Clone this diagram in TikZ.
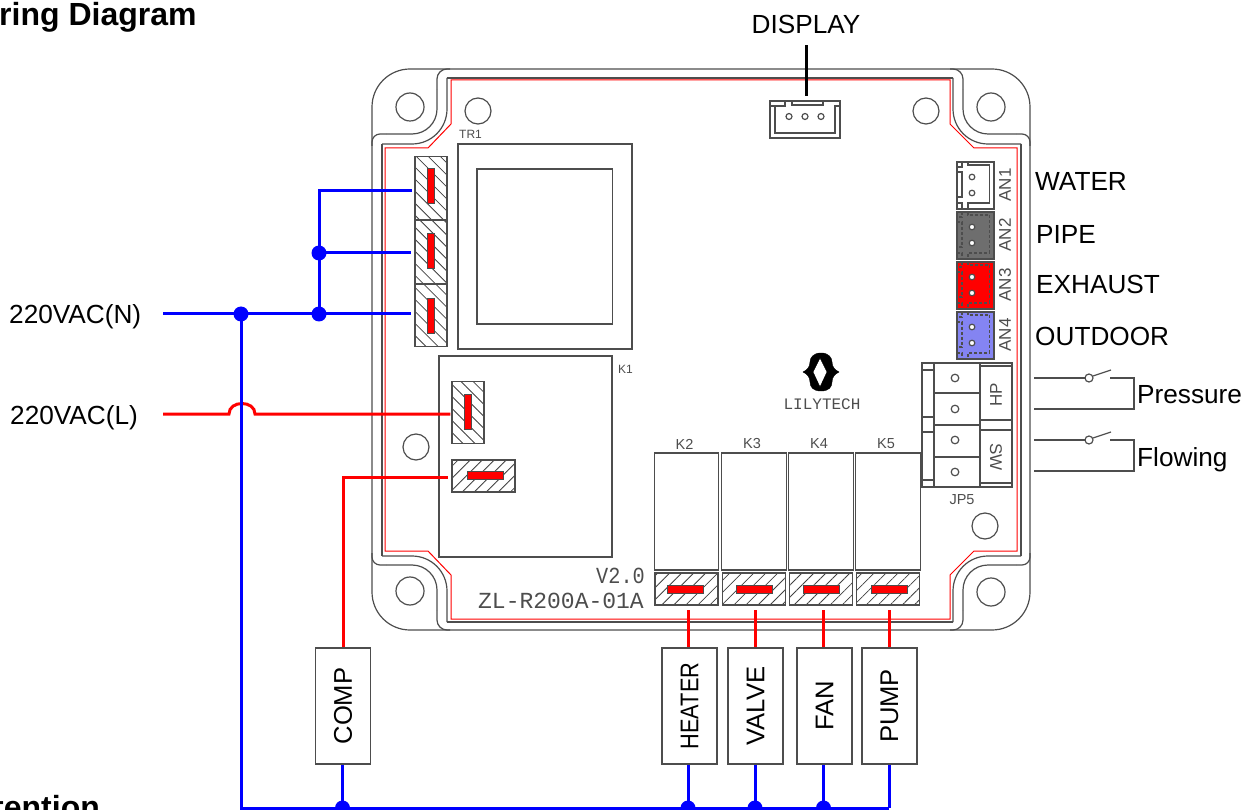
\documentclass[tikz,border=0pt]{standalone}
\usepackage{fontspec}
\setmainfont{Liberation Sans}
\newfontfamily\pcbfont{Liberation Mono}
\usetikzlibrary{calc}
\usetikzlibrary{patterns.meta}
\definecolor{pcbgray}{HTML}{4D4D4D}
\definecolor{an4blue}{HTML}{8484F2}
\definecolor{an2gray}{HTML}{6E6E6E}
\newcommand\arcpart[4]{
    \draw[pcb, rounded corners=#1pt] (#2) -- (#3) -- (#4);
}
\newcommand\termv[3]{
    \node[hatchv] (#1) at (#2) {};
    \node[barv] at (#3) {};
}
\newcommand\termh[3]{
    \node[hatchh] (#1) at (#2) {};
    \node[barh] at (#3) {};
}
\newcommand\anconn[5]{
    \def\A{{957,#2}}
    \node[anbox, fill=#3] (#1) at ($(\A) + (18.5,23.5)$) {};
    \draw[pcb, #4] ($(\A) + (11,0)$) -- ($(\A) + (11,3)$) -- ($(\A) + (32.5,3)$) -- ($(\A) + (32.5,41)$) -- ($(\A) + (11,41)$) -- ($(\A) + (11,47)$);
    \draw[pcb, #4] ($(\A) + (5,0)$) -- ($(\A) + (5,5)$) -- ($(\A) + (0,5)$);
    \draw[pcb, #4] ($(\A) + (0,10)$) -- ($(\A) + (5,10)$) -- ($(\A) + (5,35)$) -- ($(\A) + (0,35)$);
    \draw[pcb, #4] ($(\A) + (0,41)$) -- ($(\A) + (5,41)$) -- ($(\A) + (5,47)$);
    \foreach \p in {15,31}
    {
        \draw[pcb, fill=#5] ($(\A) + (15,\p)$) circle (2.8);
    }
    \node[anlbl] at ($(\A) + (48,23)$) {#1};
}
\begin{document}
\begin{tikzpicture}[
        x=1pt, y=-1pt,
        pcb/.style={draw=pcbgray, line width=1.2pt},
        pcbred/.style={draw=red, line width=1pt},
        lbl/.style={anchor=base west, inner sep=0pt, font=\fontsize{26.2}{30}\selectfont},
        title/.style={anchor=base west, inner sep=0pt, font=\fontsize{32}{38}\selectfont\bfseries},
        smalllbl/.style={inner sep=0pt, text=pcbgray, font=\fontsize{12}{14}\selectfont},
        partlbl/.style={inner sep=0pt, text=pcbgray, font=\fontsize{14.5}{16}\selectfont},
        anlbl/.style={inner sep=0pt, rotate=90, text=pcbgray, font=\fontsize{17}{20}\selectfont},
        silk/.style={anchor=base east, inner sep=0pt, text=pcbgray, font=\fontsize{23}{26}\selectfont\pcbfont},
        hatchv/.style={pcb, inner sep=0pt, minimum width=32pt, minimum height=62.5pt,
            pattern={Lines[angle=-45, distance=8.5pt, line width=0.8pt]}, pattern color=black!75},
        hatchh/.style={pcb, inner sep=0pt, minimum width=63pt, minimum height=32pt,
            pattern={Lines[angle=45, distance=8.5pt, line width=0.8pt]}, pattern color=black!75},
        barv/.style={draw=black!70, fill=red, line width=0.8pt, inner sep=0pt, minimum width=7pt, minimum height=35pt},
        barh/.style={draw=black!70, fill=red, line width=0.8pt, inner sep=0pt, minimum width=36pt, minimum height=8pt},
        relay/.style={pcb, inner sep=0pt, minimum width=64.5pt, minimum height=117pt},
        loadbox/.style={pcb, rotate=90, inner sep=0pt, minimum width=116pt, minimum height=55pt, font=\fontsize{25.6}{30}\selectfont},
        anbox/.style={pcb, inner sep=0pt, minimum width=37pt, minimum height=47pt},
        bw/.style={draw=blue, line width=3pt},
        rw/.style={draw=red, line width=3pt},
        jdot/.style={circle, fill=blue, inner sep=0pt, minimum size=15pt}
    ]
    \useasboundingbox (0,0) rectangle (1248,810);

    \node[title] (ttop) at (-1,26) {ring Diagram};
    \node[title] (tbot) at (-7,818) {tention};

    \draw[pcb, rounded corners=38pt] (372,69) rectangle (1030,630);
    \arcpart{35}{382,144}{447,144}{447,78}
    \arcpart{35}{953,78}{953,144}{1021,144}
    \arcpart{35}{1021,556}{953,556}{953,622}
    \arcpart{35}{447,622}{447,556}{382,556}
    \draw[pcb] (447,78) -- (953,78);
    \draw[pcb] (1021,144) -- (1021,556);
    \draw[pcb] (953,622) -- (447,622);
    \draw[pcb] (382,556) -- (382,144);
    \arcpart{8}{372,146}{372,134}{386,134}
    \arcpart{25}{386,134}{437,134}{437,90}
    \arcpart{10}{437,90}{437,69}{450,69}
    \arcpart{8}{1030,146}{1030,134}{1016,134}
    \arcpart{25}{1016,134}{963,134}{963,90}
    \arcpart{10}{963,90}{963,69}{950,69}
    \arcpart{8}{372,553}{372,565}{386,565}
    \arcpart{25}{386,565}{437,565}{437,610}
    \arcpart{10}{437,610}{437,630}{450,630}
    \arcpart{8}{1030,553}{1030,565}{1016,565}
    \arcpart{25}{1016,565}{963,565}{963,610}
    \arcpart{10}{963,610}{963,630}{950,630}
    \draw[pcbred] (451,80) -- (950,80) -- (950,124) -- (974,148) -- (1017,148) -- (1017,551) -- (974,551) -- (950,575) -- (950,619) -- (451,619) -- (451,575) -- (428,551) -- (385,551) -- (385,148) -- (428,148) -- (451,124) -- cycle;

    \foreach \x/\y/\r in {410/107/14, 478/111/13, 991/107/14, 926/111/13, 416/447/13, 410/591/14, 991/592/14, 985/526/13}
    {
        \draw[pcb] (\x,\y) circle (\r);
    }

    \node[pcb, minimum width=174pt, minimum height=205pt, inner sep=0pt] (tr1) at (545,246.5) {};
    \node[pcb, minimum width=135.5pt, minimum height=155pt, inner sep=0pt] (tr1in) at (544.75,246.5) {};
    \node[smalllbl] (tr1lbl) at (470.5,134) {TR1};
    \node[pcb, minimum width=173pt, minimum height=201pt, inner sep=0pt] (k1) at (525.5,456.5) {};
    \node[smalllbl] (k1lbl) at (625.5,369) {K1};

    \termv{tb1}{431,188}{430.5,185.5}
    \termv{tb2}{431,252}{430.5,250.5}
    \termv{tb3}{431,315.5}{430.5,315.5}
    \termv{k1a}{468,412.5}{467.5,411.5}
    \termh{k1b}{483.5,476}{485,475.5}

    \foreach \n/\t/\x/\b in {k2/K2/686.5/685.5, k3/K3/754/754, k4/K4/821/821, k5/K5/888/889}
    {
        \node[relay] (\n) at (\x,511.5) {};
        \node[partlbl] (\n lbl) at (\x-2,444) {\t};
        \termh{\n t}{\x,589}{\b,589}
    }

    \node[silk] (ver) at (645,583) {\scalebox{0.88}[1]{V2.0}};
    \node[silk] (brd) at (644,608) {ZL-R200A-01A};

    \node[pcb, minimum width=70pt, minimum height=37pt, inner sep=0pt] (dconn) at (805,119.5) {};
    \draw[pcb] (775,106) -- (775,133) -- (835,133) -- (835,106) -- (840,106);
    \draw[pcb] (770,106) -- (785,106) -- (785,101);
    \draw[pcb] (792,101) -- (792,105) -- (823,105) -- (823,101);
    \foreach \x in {789,805,821}
    {
        \draw[pcb] (\x,116.5) circle (3);
    }
    \node[lbl, anchor=base] (display) at (806,34) {DISPLAY};
    \draw[line width=3pt, shorten <=11pt, shorten >=4pt] (display.south) -- (display.south |- dconn.north);

    \anconn{AN1}{162}{white}{}{white}
    \anconn{AN2}{212}{an2gray}{densely dashed}{white}
    \anconn{AN3}{262}{red}{densely dashed}{white}
    \anconn{AN4}{312}{an4blue}{densely dashed}{white}
    \node[lbl] (water) at (1035,191) {WATER};
    \node[lbl] (pipe) at (1036,244) {PIPE};
    \node[lbl] (exhaust) at (1036,294) {EXHAUST};
    \node[lbl] (outdoor) at (1035,345) {OUTDOOR};

    \draw[fill=black, even odd rule] (821,353) .. controls (813,353) and (810,358) .. (810,362) .. controls (810,367) and (807,370) .. (803,372) .. controls (807,374) and (810,377) .. (810,382) .. controls (810,387) and (813,391) .. (821,391) .. controls (829,391) and (832,387) .. (832,382) .. controls (832,377) and (835,374) .. (839,372) .. controls (835,370) and (832,367) .. (832,362) .. controls (832,358) and (829,353) .. (821,353) -- cycle
        (820,358) -- (813,372) -- (820,387) -- (827,372) -- cycle;
    \node[inner sep=0pt, text=pcbgray, font=\fontsize{16}{18}\selectfont\pcbfont] (logo) at (822,404) {LILYTECH};

    \node[pcb, minimum width=90pt, minimum height=124pt, inner sep=0pt] (jp5) at (967,425) {};
    \draw[pcb] (934,363) -- (934,487);
    \draw[pcb] (980,363) -- (980,487);
    \foreach \y in {393,425,457}
    {
        \draw[pcb] (934,\y) -- (980,\y);
    }
    \foreach \y in {370,417,432,480}
    {
        \draw[pcb] (922,\y) -- (934,\y);
    }
    \foreach \y in {366,420,430,483}
    {
        \draw[pcb] (980,\y) -- (1012,\y);
    }
    \foreach \y in {378,409,440,472}
    {
        \draw[pcb] (955,\y) circle (3.8);
    }
    \node[anlbl] (hp) at (996,395) {HP};
    \node[anlbl, rotate=180] (sw) at (996,457) {SW};
    \node[partlbl] (jp5lbl) at (962,500) {JP5};

    \foreach \y/\t/\b in {378/370/409, 440/432/471}
    {
        \draw[pcb] (1034,\y) -- (1085,\y);
        \draw[pcb] (1089,\y) circle (4);
        \draw[pcb] (1093,\y-2) -- (1111,\t);
        \draw[pcb] (1110,\y) -- (1134,\y) -- (1134,\b) -- (1034,\b);
    }
    \node[lbl] (press) at (1137,403) {Pressure};
    \node[lbl] (flow) at (1137,466) {Flowing};

    \node[lbl] (nlbl) at (9,324) {220VAC(N)};
    \node[lbl] (llbl) at (10,424) {220VAC(L)};

    \node[loadbox] (comp) at (343,706) {COMP};
    \node[loadbox] (heater) at (689.5,706) {\scalebox{0.85}[1]{HEATER}};
    \node[loadbox] (valve) at (755.5,706) {VALVE};
    \node[loadbox] (fan) at (824.5,706) {FAN};
    \node[loadbox] (pump) at (889.5,706) {PUMP};

    \coordinate (nin) at (163,314);
    \coordinate (lin) at (163,414);
    \coordinate (jn1) at (241,314);
    \coordinate (jn2) at (319,314);
    \coordinate (jn3) at (319,253);
    \coordinate (jn4) at (319,191);
    \coordinate (busl) at (241,808);
    \coordinate (busr) at (889,808);
    \coordinate (hopl) at (229,414);
    \coordinate (hopr) at (255,414);
    \coordinate (cmp) at (343,477);

    \draw[rw, shorten >=1pt] (lin) -- (hopl) .. controls (229,400) and (255,400) .. (hopr) -- (hopr -| k1a.west);
    \draw[rw, shorten >=4pt] (comp.east) -- (cmp) -- (cmp -| k1b.west);

    \draw[bw, shorten >=3pt] (nin) -- (nin -| tb3.west);
    \draw[bw, shorten >=3pt] (jn3) -- (jn3 -| tb2.west);
    \draw[bw, shorten >=3pt] (jn2) -- (jn4) -- (jn4 -| tb1.west);
    \draw[bw] (jn1) -- (busl) -- (busr);

    \foreach \n/\x in {heater/688, valve/755, fan/823.5, pump/889}
    {
        \coordinate (\n top) at (\x,610);
        \coordinate (\n bus) at (\x,808);
        \draw[rw] (\n top) -- (\n top |- \n.east);
        \draw[bw] (\n bus |- \n.west) -- (\n bus);
    }
    \coordinate (compbus) at (342.5,808);
    \draw[bw] (compbus |- comp.west) -- (compbus);

    \foreach \n/\j in {a/jn1, b/jn2, c/jn3, d/compbus, e/heaterbus, f/valvebus, g/fanbus}
    {
        \node[jdot] (dot\n) at (\j) {};
    }
\end{tikzpicture}
\end{document}
